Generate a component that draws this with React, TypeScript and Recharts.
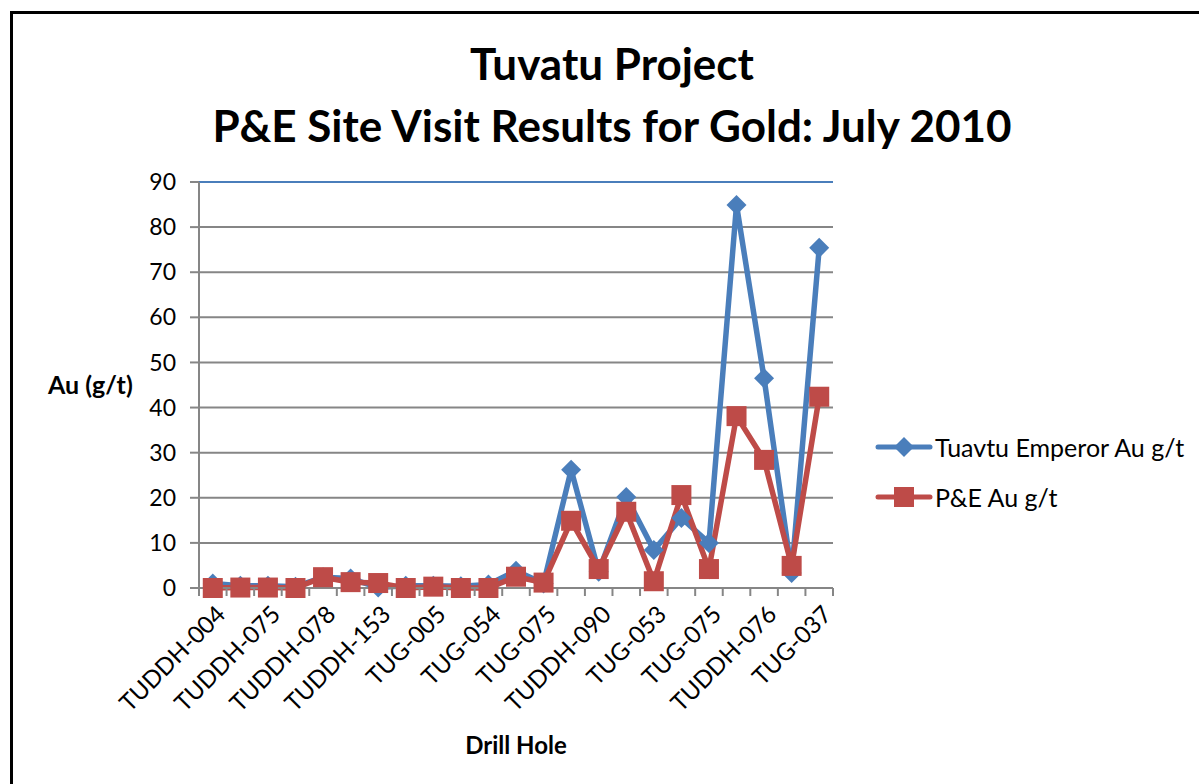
import { CartesianGrid, Line, LineChart, ReferenceLine, XAxis, YAxis } from "recharts"

// drill holes in chart order (only every other one is labelled on the axis)
const holes = [
  "TUDDH-004", "TUDDH-052", "TUDDH-075", "TUDDH-076a", "TUDDH-078", "TUDDH-105",
  "TUDDH-153", "TUDDH-160", "TUG-005", "TUG-033", "TUG-054", "TUG-061",
  "TUG-075", "TUDDH-086", "TUDDH-090", "TUG-042", "TUG-053", "TUG-066",
  "TUG-075b", "TUDDH-064", "TUDDH-076", "TUG-021", "TUG-037",
]
const holeLabels = holes.map((h) => h.replace(/[ab]$/, ""))
const emperorAu = [
  1.0, 0.5, 0.5, 0.3, 2.4, 2.1, 0.1, 0.5, 0.5, 0.4, 0.8, 3.8,
  1.0, 26.2, 3.6, 20.2, 8.4, 15.5, 10.0, 84.9, 46.5, 3.3, 75.4,
]
const peAu = [
  0.0, 0.1, 0.1, 0.0, 2.4, 1.3, 1.1, 0.0, 0.3, 0.0, 0.0, 2.5,
  1.2, 14.9, 4.2, 16.9, 1.5, 20.6, 4.2, 38.1, 28.4, 4.9, 42.4,
]
const yTicks = [0, 10, 20, 30, 40, 50, 60, 70, 80, 90]

const BLUE = "#4a7ebb"
const RED = "#be4b48"
const GREY = "#868686"
const FONT = "Lato, 'Open Sans', sans-serif"

const data = holes.map((hole, i) => ({ hole, emperor: emperorAu[i], pe: peAu[i] }))

function Diamond(props: any) {
  const { cx, cy } = props
  if (cx == null || cy == null) return null
  const r = 10
  return <path d={`M${cx},${cy - r}L${cx + r},${cy}L${cx},${cy + r}L${cx - r},${cy}Z`} fill={BLUE} />
}

function Square(props: any) {
  const { cx, cy } = props
  if (cx == null || cy == null) return null
  const s = 10
  return <rect x={cx - s} y={cy - s} width={s * 2} height={s * 2} fill={RED} />
}

function HoleTick(props: any) {
  const { x, y, payload, index } = props
  const half = payload?.offset ?? 0
  const last = index === holes.length - 1
  const tx = x + 14
  const ty = y + 20
  return (
    <g>
      <line x1={x - half} x2={x - half} y1={y - 8} y2={y} stroke={GREY} strokeWidth={2} />
      {last && <line x1={x + half} x2={x + half} y1={y - 8} y2={y} stroke={GREY} strokeWidth={2} />}
      {index % 2 === 0 && (
        <text
          x={tx}
          y={ty}
          transform={`rotate(-45, ${tx}, ${ty})`}
          textAnchor="end"
          fontSize={24}
          fontFamily={FONT}
          fill="#000"
        >
          {holeLabels[index]}
        </text>
      )}
    </g>
  )
}

function LegendBox() {
  const rows = [
    { name: "Tuavtu Emperor Au g/t", color: BLUE, square: false },
    { name: "P&E Au g/t", color: RED, square: true },
  ]
  return (
    <div style={{ position: "absolute", left: 875, top: 422, fontFamily: FONT, fontSize: 25 }}>
      {rows.map((r) => (
        <div key={r.name} style={{ display: "flex", alignItems: "center", height: 50 }}>
          <svg width={58} height={24}>
            <line x1={3} x2={55} y1={12} y2={12} stroke={r.color} strokeWidth={5} strokeLinecap="round" />
            {r.square ? (
              <rect x={19} y={2} width={20} height={20} fill={r.color} />
            ) : (
              <path d="M29,2L39,12L29,22L19,12Z" fill={r.color} />
            )}
          </svg>
          <span style={{ marginLeft: 2 }}>{r.name}</span>
        </div>
      ))}
    </div>
  )
}

export default function App() {
  return (
    <div style={{ position: "absolute", left: 0, top: 0, width: 1199, height: 784, background: "#fff", overflow: "hidden" }}>
      <div
        style={{
          position: "absolute",
          left: 10,
          top: 11,
          width: 1300,
          height: 900,
          border: "3px solid #000",
        }}
      />
      <div
        style={{
          position: "absolute",
          left: 0,
          top: 32,
          width: 1224,
          textAlign: "center",
          fontFamily: FONT,
          fontWeight: 700,
          fontSize: 44,
          lineHeight: "62px",
          color: "#000",
        }}
      >
        <div>Tuvatu Project</div>
        <div>P&amp;E Site Visit Results for Gold: July 2010</div>
      </div>
      <div style={{ position: "absolute", left: 0, top: 0 }}>
        <LineChart width={1199} height={784} data={data} margin={{ top: 182, right: 366, left: 0, bottom: 0 }}>
          <CartesianGrid vertical={false} stroke={GREY} strokeWidth={2} />
          <XAxis
            dataKey="hole"
            scale="band"
            interval={0}
            height={196}
            axisLine={{ stroke: GREY, strokeWidth: 2 }}
            tickLine={false}
            tickSize={8}
            tickMargin={0}
            tick={<HoleTick />}
            label={{ value: "Drill Hole", position: "insideBottom", offset: 30, fontSize: 24, fontWeight: 700, fontFamily: FONT, fill: "#000" }}
          />
          <YAxis
            domain={[0, 90]}
            ticks={yTicks}
            width={199}
            axisLine={{ stroke: GREY, strokeWidth: 2 }}
            tickLine={{ stroke: GREY, strokeWidth: 2 }}
            tickSize={9}
            tickMargin={14}
            tick={{ fill: "#000", fontSize: 23, fontFamily: FONT }}
            label={{ value: "Au (g/t)", position: "insideLeft", offset: 48, fontSize: 25, fontWeight: 700, fontFamily: FONT, fill: "#000" }}
          />
          <YAxis yAxisId="frame" orientation="right" width={0} domain={[0, 90]} axisLine={{ stroke: BLUE, strokeWidth: 2 }} tick={false} tickLine={false} />
          <ReferenceLine y={90} stroke={BLUE} strokeWidth={2} />
          <Line
            dataKey="emperor"
            name="Tuavtu Emperor Au g/t"
            stroke={BLUE}
            strokeWidth={5.5}
            dot={<Diamond />}
            activeDot={false}
            isAnimationActive={false}
          />
          <Line
            dataKey="pe"
            name="P&E Au g/t"
            stroke={RED}
            strokeWidth={5.5}
            dot={<Square />}
            activeDot={false}
            isAnimationActive={false}
          />
        </LineChart>
      </div>
      <LegendBox />
    </div>
  )
}
